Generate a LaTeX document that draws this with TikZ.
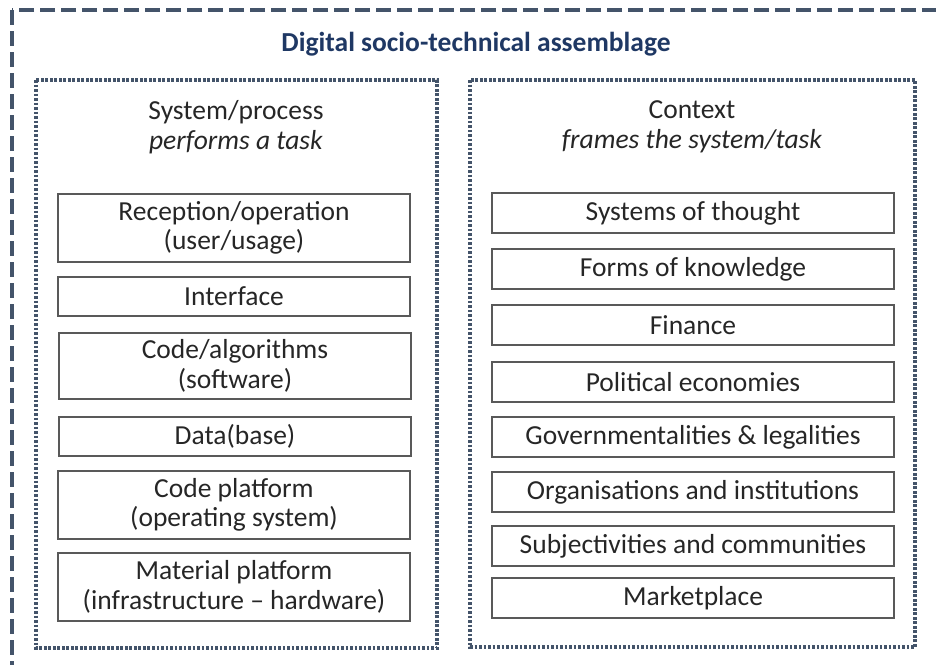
\documentclass[tikz,border=0pt]{standalone}
\usepackage{fontspec}
\setmainfont{Carlito}
\usepackage{tikz}
\usepackage{xcolor}
\definecolor{framegrey}{HTML}{44546A}
\definecolor{titleblue}{HTML}{1F3864}
\definecolor{boxline}{HTML}{595959}

\begin{document}
\begin{tikzpicture}[x=1pt,y=-1pt,
		layer/.style={draw=boxline,line width=1.8pt,inner sep=0pt,align=center,
			font=\fontsize{27.5}{29.5}\selectfont,text=black!85},
		leftlayer/.style={layer,minimum width=352pt},
		rightlayer/.style={layer,minimum width=402pt,minimum height=40pt},
		dotbox/.style={draw=framegrey,line width=3.4pt,dash pattern=on 2.6pt off 1.9pt},
		dashbox/.style={draw=framegrey,line width=3.6pt,dash pattern=on 15pt off 6pt}]
		\useasboundingbox (0,0) rectangle (936,664);
		\clip (0,0) rectangle (936,664);
		% OUTER ASSEMBLAGE FRAME
		\draw [dashbox] (12,10) rectangle (960,690);
		\node (title) at (476,44) [font=\fontsize{27.5}{30}\selectfont\bfseries,text=titleblue] {Digital socio-technical assemblage};
		% SYSTEM SIDE
		\draw [dotbox] (36,80) rectangle (437,648);
		\node (system) at (236,127) [align=center,font=\fontsize{27.5}{29.5}\selectfont,text=black!85] {System/process\\\textit{performs a task}};
		\node (reception) at (234,228) [leftlayer,minimum height=68pt] {Reception/operation\\(user/usage)};
		\node (interface) at (234,296.5) [leftlayer,minimum height=39pt] {Interface};
		\node (code) at (235,366) [leftlayer,minimum height=66pt] {Code/algorithms\\(software)};
		\node (data) at (235,436.5) [leftlayer,minimum height=39pt] {Data(base)};
		\node (platform) at (234,505) [leftlayer,minimum height=68pt] {Code platform\\(operating system)};
		\node (material) at (234,587) [leftlayer,minimum height=68pt] {Material platform\\(infrastructure -- hardware)};
		% CONTEXT SIDE
		\draw [dotbox] (470,80) rectangle (915,647);
		\node (context) at (692,127) [align=center,font=\fontsize{27.5}{29.5}\selectfont,text=black!85] {Context\\\textit{frames the system/task}};
		\node (thought) at (693,213) [rightlayer] {Systems of thought};
		\node (knowledge) at (693,269) [rightlayer] {Forms of knowledge};
		\node (finance) at (693,325) [rightlayer] {Finance};
		\node (political) at (693,382) [rightlayer] {Political economies};
		\node (govern) at (693,437) [rightlayer] {Governmentalities \& legalities};
		\node (organisations) at (693,492) [rightlayer] {Organisations and institutions};
		\node (subjects) at (693,546) [rightlayer] {Subjectivities and communities};
		\node (market) at (693,598) [rightlayer] {Marketplace};
		\end{tikzpicture}
\end{document}
